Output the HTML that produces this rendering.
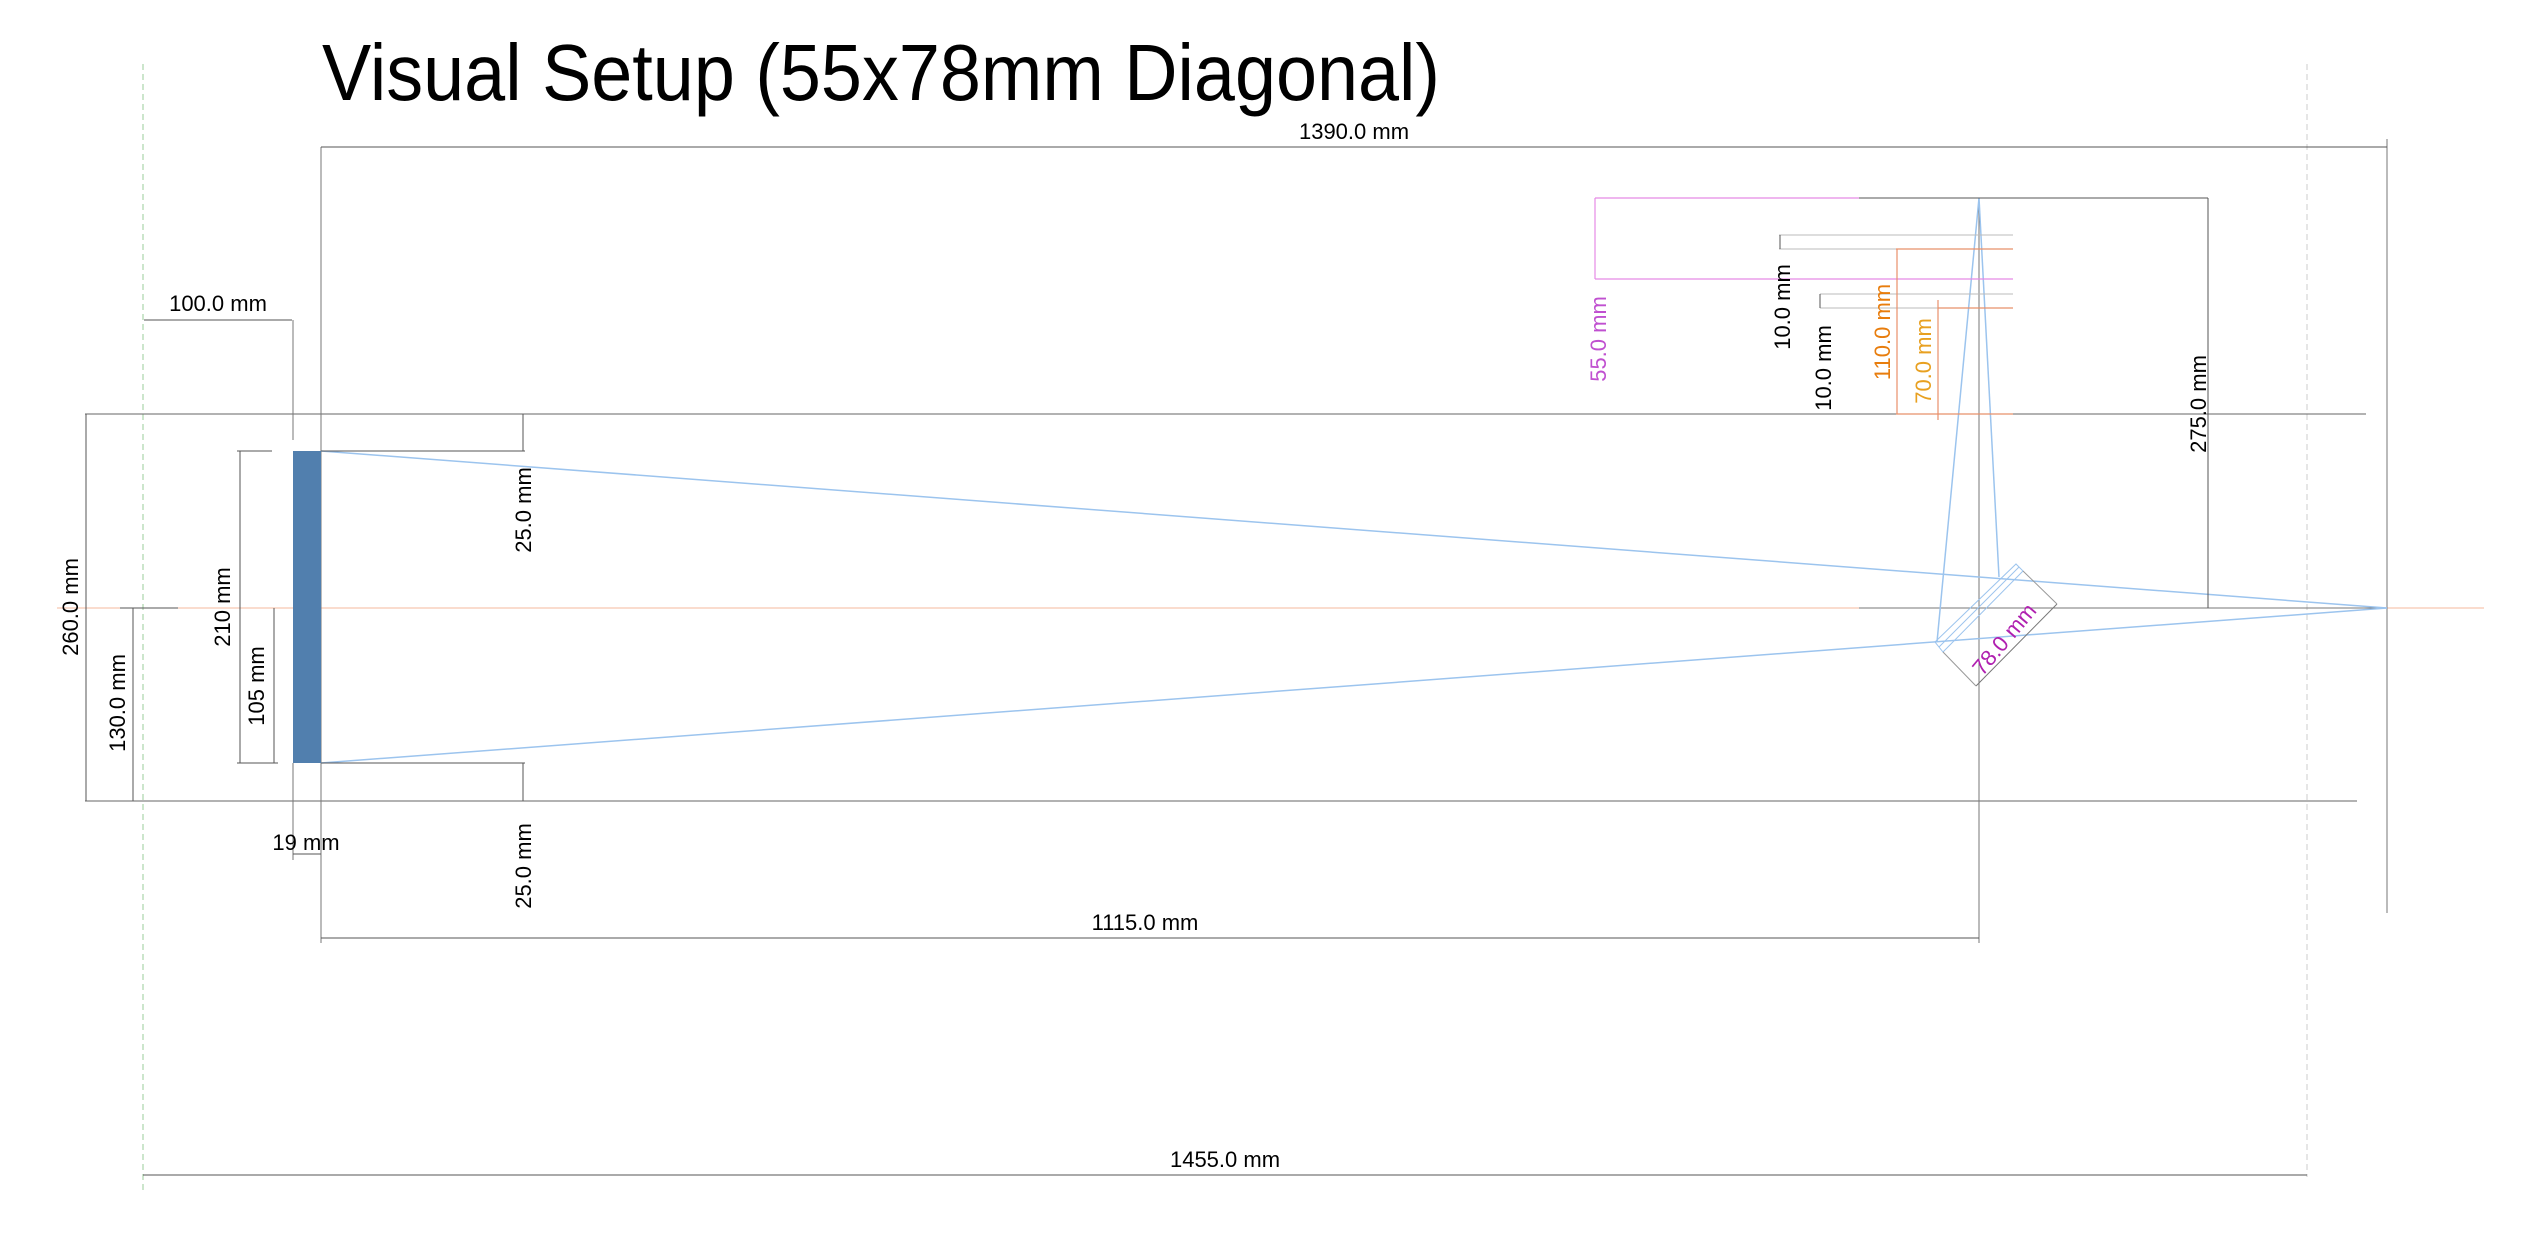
<!DOCTYPE html>
<html><head><meta charset="utf-8"><style>
html,body{margin:0;padding:0;background:#fff;}
svg{display:block;}
text{font-family:"Liberation Sans",sans-serif;}
</style></head><body>
<svg width="2527" height="1250" viewBox="0 0 2527 1250" xmlns="http://www.w3.org/2000/svg">
<g>
<text x="322" y="100" font-size="80" textLength="1118" lengthAdjust="spacingAndGlyphs" fill="#000">Visual Setup (55x78mm Diagonal)</text>
</g>
<g stroke-width="1" fill="none">
<line x1="143" y1="64" x2="143" y2="1193" stroke="#9c9" stroke-dasharray="6,4"/>
<line x1="2307" y1="64" x2="2307" y2="1177" stroke="#ccc" stroke-dasharray="6,4"/>
<line x1="57" y1="608" x2="2484" y2="608" stroke="#f5b89e"/>
<line x1="1859" y1="608" x2="2387" y2="608" stroke="#777"/>
<line x1="85" y1="414" x2="2366" y2="414" stroke="#666"/>
<line x1="85" y1="801" x2="2357" y2="801" stroke="#666"/>
<line x1="321" y1="147" x2="321" y2="943" stroke="#777"/>
<line x1="2387" y1="139" x2="2387" y2="913" stroke="#777"/>
<line x1="1979" y1="198" x2="1979" y2="943" stroke="#777"/>
<line x1="293" y1="320" x2="293" y2="440" stroke="#777"/>
<line x1="293" y1="763" x2="293" y2="860" stroke="#777"/>
</g>
<rect x="293" y="451" width="28" height="312" fill="#517fae"/>
<g stroke="#9cc4ee" stroke-width="1.5" fill="none">
<line x1="321" y1="451" x2="2387" y2="608"/>
<line x1="321" y1="763" x2="2387" y2="608"/>
<line x1="1979" y1="198" x2="1937" y2="642"/>
<line x1="1979" y1="198" x2="1999" y2="577"/>
</g>
<g stroke="#9cc4ee" stroke-width="1" fill="none">
<polygon points="1935,642 2016,564 2023,571 1943,652"/>
<line x1="1939" y1="647" x2="2019" y2="567"/>
</g>
<g stroke="#555" stroke-width="1" fill="none">
<line x1="321" y1="147" x2="2387" y2="147"/>
<line x1="144" y1="320" x2="292" y2="320"/>
<line x1="86" y1="414" x2="86" y2="801"/>
<line x1="133" y1="608" x2="133" y2="801"/>
<line x1="120" y1="608" x2="178" y2="608"/>
<line x1="240" y1="451" x2="240" y2="763"/>
<line x1="237" y1="451" x2="272" y2="451"/>
<line x1="237" y1="763" x2="278" y2="763"/>
<line x1="274" y1="608" x2="274" y2="763"/>
<line x1="321" y1="451" x2="525" y2="451"/>
<line x1="523" y1="414" x2="523" y2="451"/>
<line x1="321" y1="763" x2="525" y2="763"/>
<line x1="523" y1="763" x2="523" y2="801"/>
<line x1="293" y1="854" x2="321" y2="854"/>
<line x1="321" y1="938" x2="1979" y2="938"/>
<line x1="143" y1="1175" x2="2307" y2="1175"/>
<line x1="1859" y1="198" x2="2208" y2="198"/>
<line x1="2208" y1="198" x2="2208" y2="608"/>
<line x1="1779" y1="235" x2="2013" y2="235" stroke="#bbb"/>
<line x1="1779" y1="249" x2="2013" y2="249" stroke="#bbb"/>
<line x1="1780" y1="235" x2="1780" y2="249"/>
<line x1="1820" y1="294" x2="2013" y2="294" stroke="#bbb"/>
<line x1="1820" y1="308" x2="2013" y2="308" stroke="#bbb"/>
<line x1="1820" y1="294" x2="1820" y2="308"/>
<line x1="1976" y1="686" x2="2057" y2="604" stroke="#777"/>
<line x1="1943" y1="652" x2="1976" y2="686" stroke="#999"/>
<line x1="2023" y1="571" x2="2057" y2="604" stroke="#999"/>
</g>
<g stroke="#e58ae5" stroke-width="1.2" fill="none">
<line x1="1595" y1="198" x2="1859" y2="198"/>
<line x1="1595" y1="279" x2="2013" y2="279"/>
<line x1="1595" y1="198" x2="1595" y2="279"/>
</g>
<g stroke="#e8906a" stroke-width="1.2" fill="none">
<line x1="1897" y1="249" x2="1897" y2="414"/>
<line x1="1896" y1="249" x2="2013" y2="249"/>
<line x1="1896" y1="414" x2="2013" y2="414"/>
<line x1="1938" y1="300" x2="1938" y2="420"/>
<line x1="1938" y1="308" x2="2013" y2="308"/>
</g>
<g font-size="22" fill="#000" text-anchor="middle">
<text x="1354" y="139">1390.0 mm</text>
<text x="218" y="311">100.0 mm</text>
<text x="306" y="850">19 mm</text>
<text x="1145" y="930">1115.0 mm</text>
<text x="1225" y="1167">1455.0 mm</text>
<text transform="translate(78,607) rotate(-90)">260.0 mm</text>
<text transform="translate(125,703) rotate(-90)">130.0 mm</text>
<text transform="translate(230,607) rotate(-90)">210 mm</text>
<text transform="translate(264,686) rotate(-90)">105 mm</text>
<text transform="translate(531,510) rotate(-90)">25.0 mm</text>
<text transform="translate(531,866) rotate(-90)">25.0 mm</text>
<text transform="translate(2206,404) rotate(-90)">275.0 mm</text>
<text transform="translate(1790,307) rotate(-90)">10.0 mm</text>
<text transform="translate(1831,368) rotate(-90)">10.0 mm</text>
<text transform="translate(1606,339) rotate(-90)" fill="#c050d0">55.0 mm</text>
<text transform="translate(1890,332) rotate(-90)" fill="#e87d0d">110.0 mm</text>
<text transform="translate(1931,361) rotate(-90)" fill="#e8a020">70.0 mm</text>
<text transform="translate(2010,644) rotate(-50)" fill="#b020b0">78.0 mm</text>
</g>
</svg>
</body></html>
